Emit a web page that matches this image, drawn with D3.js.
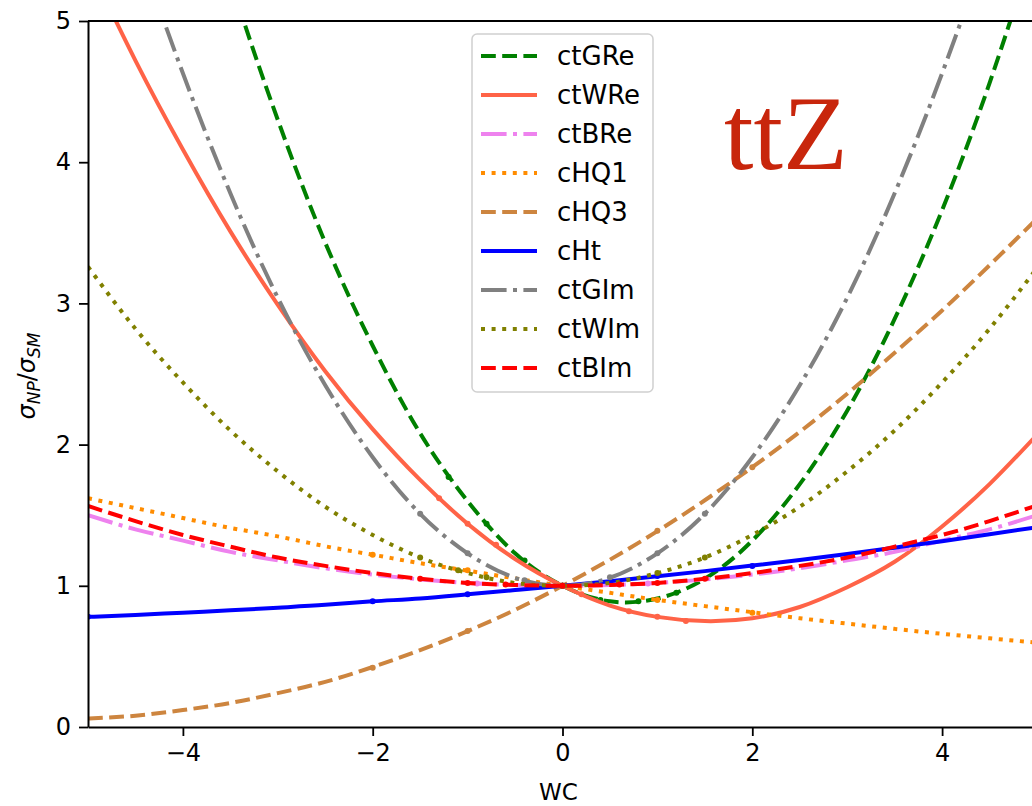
<!DOCTYPE html>
<html>
<head>
<meta charset="utf-8">
<script src="https://cdn.jsdelivr.net/npm/d3@7"></script>
<style>
  body { margin: 0; background: #fff; }
</style>
</head>
<body>
<script>
// sample points along each curve
const WC = [-5, -4.5, -4, -3.5, -3, -2.5, -2, -1.5, -1, -0.5, 0, 0.5, 1, 1.5, 2, 2.5, 3, 3.5, 4, 4.5, 5];

const ctGRe = [9.02, 7.65, 6.41, 5.29, 4.30, 3.43, 2.70, 2.08, 1.60, 1.23, 1, 0.89, 0.91, 1.05, 1.32, 1.72, 2.24, 2.89, 3.66, 4.56, 5.59];
const ctWRe = [5.41, 4.72, 4.09, 3.51, 2.99, 2.52, 2.11, 1.75, 1.44, 1.19, 1, 0.86, 0.78, 0.75, 0.77, 0.85, 0.99, 1.17, 1.42, 1.72, 2.07];
const ctBRe = [1.50, 1.40, 1.32, 1.24, 1.18, 1.124, 1.08, 1.045, 1.02, 1.005, 1, 1.005, 1.02, 1.045, 1.08, 1.124, 1.18, 1.24, 1.32, 1.40, 1.50];
const cHQ1  = [1.62, 1.55, 1.48, 1.41, 1.35, 1.28, 1.22, 1.16, 1.107, 1.052, 1, 0.95, 0.90, 0.856, 0.813, 0.77, 0.732, 0.695, 0.66, 0.628, 0.597];
const cHQ3  = [0.06, 0.08, 0.12, 0.17, 0.24, 0.32, 0.425, 0.544, 0.679, 0.83, 1, 1.185, 1.387, 1.606, 1.84, 2.09, 2.36, 2.65, 2.95, 3.27, 3.60];
const cHt   = [0.78, 0.793, 0.81, 0.826, 0.845, 0.865, 0.89, 0.91, 0.94, 0.97, 1, 1.033, 1.067, 1.104, 1.143, 1.183, 1.225, 1.27, 1.316, 1.365, 1.415];
const ctGIm = [6.67, 5.59, 4.63, 3.78, 3.04, 2.42, 1.91, 1.51, 1.23, 1.057, 1, 1.057, 1.23, 1.51, 1.91, 2.42, 3.04, 3.78, 4.63, 5.59, 6.67];
const ctWIm = [3.26, 2.82, 2.44, 2.10, 1.81, 1.56, 1.36, 1.20, 1.09, 1.02, 1, 1.02, 1.09, 1.20, 1.36, 1.56, 1.81, 2.10, 2.44, 2.82, 3.25];
const ctBIm = [1.565, 1.458, 1.36, 1.277, 1.20, 1.141, 1.09, 1.05, 1.02, 1.006, 1, 1.006, 1.02, 1.05, 1.09, 1.141, 1.20, 1.277, 1.36, 1.458, 1.57];

// small markers at the simulated points
const ctGReDots = [[-1.2, 1.77], [-0.8, 1.44], [-0.4, 1.18], [0, 1], [0.4, 0.90], [0.8, 0.89], [1.2, 0.95]];
const ctWReDots = [[-1.3, 1.62], [-1, 1.44], [-0.7, 1.29], [0, 1], [0.2, 0.94], [0.7, 0.82], [1, 0.78], [1.3, 0.75]];
const ctBReDots = [[-0.9, 1.016], [0, 1], [0.9, 1.016]];
const cHQ1Dots  = [[-2, 1.22], [-1, 1.11], [0, 1], [1, 0.90], [2, 0.81]];
const cHQ3Dots  = [[-2, 0.42], [-1, 0.68], [0, 1], [1, 1.39], [2, 1.84]];
const cHtDots   = [[-5, 0.78], [-2, 0.89], [-1, 0.94], [0, 1], [1, 1.07], [2, 1.14]];
const ctGImDots = [[-1.5, 1.51], [-1, 1.23], [-0.4, 1.04], [0, 1], [0.5, 1.06], [1, 1.23], [1.5, 1.51]];
const ctWImDots = [[-1.5, 1.20], [-1.1, 1.11], [-0.8, 1.06], [0, 1], [1, 1.09], [1.5, 1.20]];
const ctBImDots = [[-1.5, 1.05], [-1, 1.02], [-0.6, 1.01], [0, 1], [0.6, 1.01], [1, 1.02], [1.5, 1.05]];

const names = ["ctGRe", "ctWRe", "ctBRe", "cHQ1", "cHQ3", "cHt", "ctGIm", "ctWIm", "ctBIm"];
const values = [ctGRe, ctWRe, ctBRe, cHQ1, cHQ3, cHt, ctGIm, ctWIm, ctBIm];
const dots = [ctGReDots, ctWReDots, ctBReDots, cHQ1Dots, cHQ3Dots, cHtDots, ctGImDots, ctWImDots, ctBImDots];

const xTicks = [-4, -2, 0, 2, 4];
const yTicks = [0, 1, 2, 3, 4, 5];

// styles
const LW = 4;
const DASHED = [3.7 * LW, 1.6 * LW].join(",");
const DASHDOT = [6.4 * LW, 1.6 * LW, 1 * LW, 1.6 * LW].join(",");
const DOTTED = [1 * LW, 1.65 * LW].join(",");
const colors = ["green", "tomato", "violet", "darkorange", "peru", "blue", "gray", "olive", "red"];
const dashes = [DASHED, null, DASHDOT, DOTTED, DASHED, null, DASHDOT, DOTTED, DASHED];

const WIDTH = 1032, HEIGHT = 806;
const LEFT = 88, RIGHT = 1037, TOP = 21, BOTTOM = 727;
const FONT = "DejaVu Sans, sans-serif";

const svg = d3.select("body").append("svg")
  .attr("width", WIDTH)
  .attr("height", HEIGHT)
  .style("font-family", FONT);

const x = d3.scaleLinear().domain([-5, 5]).range([LEFT, RIGHT]);
const y = d3.scaleLinear().domain([0, 5]).range([BOTTOM, TOP]);

svg.append("clipPath").attr("id", "clip")
  .append("rect")
  .attr("x", LEFT).attr("y", TOP)
  .attr("width", RIGHT - LEFT).attr("height", BOTTOM - TOP);

const plot = svg.append("g").attr("clip-path", "url(#clip)");

const line = d3.line()
  .x((d, i) => x(WC[i]))
  .y(d => y(d))
  .curve(d3.curveNatural);

names.forEach((name, k) => {
  plot.append("path")
    .attr("d", line(values[k]))
    .attr("fill", "none")
    .attr("stroke", colors[k])
    .attr("stroke-width", LW)
    .attr("stroke-dasharray", dashes[k]);
  plot.selectAll(null)
    .data(dots[k])
    .enter()
    .append("circle")
    .attr("cx", d => x(d[0]))
    .attr("cy", d => y(d[1]))
    .attr("r", 3)
    .attr("fill", colors[k]);
});

// axes
const xAxis = svg.append("g")
  .attr("transform", `translate(0,${BOTTOM})`)
  .call(d3.axisBottom(x).tickValues(xTicks).tickFormat(d3.format("d")).tickSize(9).tickPadding(8).tickSizeOuter(0));
const yAxis = svg.append("g")
  .attr("transform", `translate(${LEFT},0)`)
  .call(d3.axisLeft(y).tickValues(yTicks).tickFormat(d3.format("d")).tickSize(9).tickPadding(8).tickSizeOuter(0));

[xAxis, yAxis].forEach(a => {
  a.select(".domain").attr("stroke", "#000").attr("stroke-width", 2);
  a.selectAll(".tick line").attr("stroke", "#000").attr("stroke-width", 1.8);
  a.selectAll(".tick text")
    .style("font-family", FONT)
    .style("font-size", "24px")
    .attr("fill", "#000");
});

// top spine
svg.append("line")
  .attr("x1", LEFT).attr("x2", RIGHT)
  .attr("y1", TOP).attr("y2", TOP)
  .attr("stroke", "#000").attr("stroke-width", 2);

// axis labels
svg.append("text")
  .attr("x", (LEFT + RIGHT) / 2 - 4)
  .attr("y", 800)
  .attr("text-anchor", "middle")
  .style("font-size", "23px")
  .text("WC");

const yl = svg.append("text")
  .attr("transform", "translate(35,376) rotate(-90)")
  .attr("text-anchor", "middle")
  .style("font-size", "24px");
yl.append("tspan").style("font-style", "italic").text("σ");
yl.append("tspan").style("font-style", "italic").style("font-size", "17px").attr("dy", 5).text("NP");
yl.append("tspan").attr("dy", -5).text("/");
yl.append("tspan").style("font-style", "italic").text("σ");
yl.append("tspan").style("font-style", "italic").style("font-size", "17px").attr("dy", 5).text("SM");

// legend
const legend = svg.append("g");
legend.append("rect")
  .attr("x", 472).attr("y", 34)
  .attr("width", 181).attr("height", 358)
  .attr("rx", 5)
  .attr("fill", "#fff")
  .attr("stroke", "#d0d0d0")
  .attr("stroke-width", 1.5);

names.forEach((name, k) => {
  const yy = 56 + k * 39;
  legend.append("line")
    .attr("x1", 481).attr("x2", 537)
    .attr("y1", yy).attr("y2", yy)
    .attr("stroke", colors[k])
    .attr("stroke-width", LW)
    .attr("stroke-dasharray", dashes[k]);
  legend.append("text")
    .attr("x", 557)
    .attr("y", yy + 9)
    .style("font-size", "26px")
    .attr("fill", "#000")
    .text(name);
});

// process label
svg.append("text")
  .attr("x", 724)
  .attr("y", 169)
  .style("font-family", "Liberation Serif, serif")
  .style("font-size", "106px")
  .attr("fill", "#c8260c")
  .text("ttZ");
</script>
</body>
</html>
